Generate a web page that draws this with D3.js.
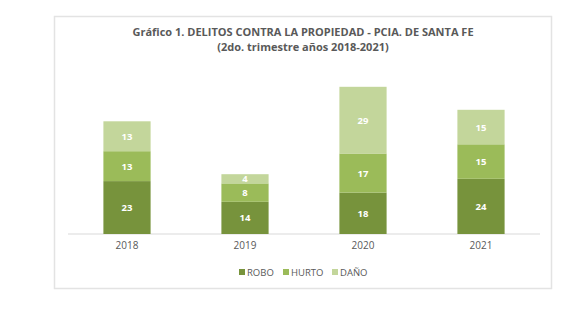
<!DOCTYPE html>
<html>
<head>
<meta charset="utf-8">
<script src="https://cdn.jsdelivr.net/npm/d3@7"></script>
<style>
  body { margin: 0; background: #fff; }
  text { font-family: "Open Sans", "Liberation Sans", sans-serif; }
</style>
</head>
<body>
<script>
//quarterly property crime counts, stacked by type
var years = ["2018", "2019", "2020", "2021"];
var robo  = [23, 14, 18, 24];
var hurto = [13, 8, 17, 15];
var dano  = [13, 4, 29, 15];
var seriesNames = ["ROBO", "HURTO", "DAÑO"];
var seriesColors = ["#77933c", "#9bbb59", "#c3d69b"];

window.onload = drawChart();

function drawChart(){
    var width = 570,
        height = 336;

    var svg = d3.select("body")
        .append("svg")
        .attr("width", width)
        .attr("height", height);

    //chart frame
    svg.append("rect")
        .attr("x", 54.5)
        .attr("y", 16.5)
        .attr("width", 497)
        .attr("height", 272)
        .attr("fill", "#fff")
        .attr("stroke", "#e3e3e3")
        .attr("stroke-width", 1.5);

    //title, two lines
    svg.append("text")
        .attr("x", 303)
        .attr("y", 35.5)
        .attr("text-anchor", "middle")
        .attr("font-size", "11px")
        .attr("font-weight", "bold")
        .attr("fill", "#595959")
        .text("Gráfico 1. DELITOS CONTRA LA PROPIEDAD - PCIA. DE SANTA FE");
    svg.append("text")
        .attr("x", 303)
        .attr("y", 50.5)
        .attr("text-anchor", "middle")
        .attr("font-size", "11px")
        .attr("font-weight", "bold")
        .attr("fill", "#595959")
        .text("(2do. trimestre años 2018-2021)");

    //build stack rows from the series arrays
    var rows = years.map(function(y, i){
        return { year: y, ROBO: robo[i], HURTO: hurto[i], "DAÑO": dano[i] };
    });
    var stacked = d3.stack().keys(seriesNames)(rows);

    var x = d3.scaleBand()
        .domain(years)
        .range([68, 540])
        .paddingInner(0.6)
        .paddingOuter(0.3);

    var y = d3.scaleLinear()
        .domain([0, 70])
        .range([234, 73]);

    var color = d3.scaleOrdinal()
        .domain(seriesNames)
        .range(seriesColors);

    //axis baseline
    svg.append("line")
        .attr("x1", 68).attr("x2", 540)
        .attr("y1", 234).attr("y2", 234)
        .attr("stroke", "#d9d9d9")
        .attr("stroke-width", 1);

    var layers = svg.selectAll(".layer")
        .data(stacked)
        .enter()
        .append("g")
        .attr("class", "layer")
        .attr("fill", function(d){ return color(d.key); });

    layers.selectAll("rect")
        .data(function(d){ return d; })
        .enter()
        .append("rect")
        .attr("x", function(d){ return x(d.data.year); })
        .attr("y", function(d){ return y(d[1]); })
        .attr("width", x.bandwidth())
        .attr("height", function(d){ return y(d[0]) - y(d[1]); });

    //value labels
    layers.selectAll(".val")
        .data(function(d){ return d; })
        .enter()
        .append("text")
        .attr("class", "val")
        .attr("x", function(d){ return x(d.data.year) + x.bandwidth() / 2; })
        .attr("y", function(d){ return (y(d[0]) + y(d[1])) / 2 + 3.5; })
        .attr("text-anchor", "middle")
        .attr("font-size", "9.5px")
        .attr("font-weight", "bold")
        .attr("fill", "#fff")
        .text(function(d){ return d[1] - d[0]; });

    //year labels
    var axis = svg.append("g")
        .attr("transform", "translate(0,234)")
        .call(d3.axisBottom(x).tickSize(0).tickPadding(8));
    axis.select(".domain").remove();
    axis.selectAll("text")
        .attr("font-family", "'Open Sans', sans-serif")
        .attr("font-size", "10px")
        .attr("fill", "#595959");

    //legend
    var legendX = [242, 286, 335];
    var legend = svg.selectAll(".legend")
        .data(seriesNames)
        .enter()
        .append("g")
        .attr("class", "legend")
        .attr("transform", function(d, i){ return "translate(" + legendX[i] + ",272)"; });
    legend.append("rect")
        .attr("x", -3).attr("y", -3)
        .attr("width", 6).attr("height", 6)
        .attr("fill", function(d){ return color(d); });
    legend.append("text")
        .attr("x", 5)
        .attr("y", 3.5)
        .attr("font-size", "9.5px")
        .attr("fill", "#595959")
        .text(function(d){ return d; });
}
</script>
</body>
</html>
